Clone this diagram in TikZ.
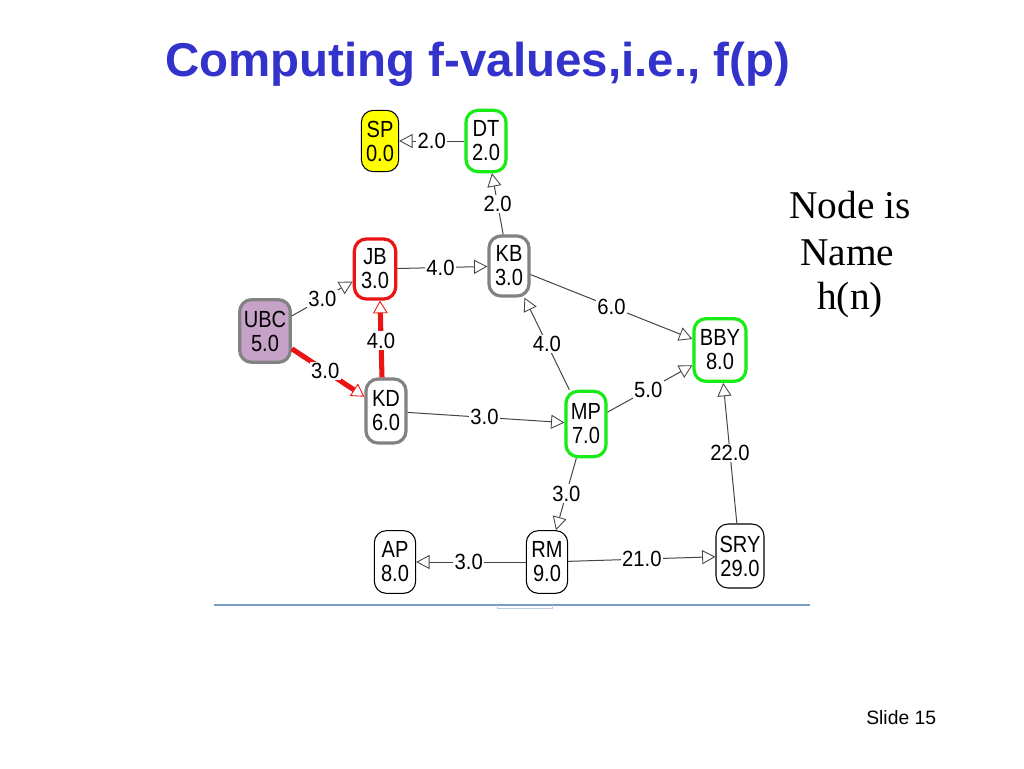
\documentclass[tikz,border=0pt]{standalone}
\usepackage{fontspec}
\setmainfont{Liberation Serif}
\newfontfamily\arial{Liberation Sans}
\newfontfamily\arialn[FakeStretch=0.86]{Liberation Sans}
\newfontfamily\arialm[FakeStretch=0.92]{Liberation Sans}
\usetikzlibrary{arrows.meta,calc}
\definecolor{titleblue}{RGB}{51,51,204}
\definecolor{ngreen}{RGB}{25,235,25}
\definecolor{nred}{RGB}{235,20,20}
\definecolor{ngray}{RGB}{130,130,130}
\definecolor{nyellow}{RGB}{255,255,0}
\definecolor{npurple}{RGB}{198,162,200}
\definecolor{edgegray}{RGB}{70,70,70}
\definecolor{slideline}{RGB}{125,155,200}
\begin{document}
\begin{tikzpicture}[x=0.75pt,y=-0.75pt,
  nd/.style={draw, rounded corners=9pt, align=center, inner sep=1pt,
    font=\arialn\fontsize{17.5}{18}\selectfont, fill=white, line width=0.8pt},
  thick/.style={line width=2.4pt},
  edge/.style={draw=edgegray, line width=0.75pt,
    -{Triangle[length=10pt,width=10.5pt,fill=white,line width=0.65pt]}},
  rededge/.style={draw=nred, line width=3.8pt,
    -{Triangle[length=9.5pt,width=11pt,fill=white,line width=0.65pt]}},
  lab/.style={fill=white, inner sep=1pt, font=\arialm\fontsize{16.5}{18}\selectfont},
  side/.style={anchor=base west, inner sep=0pt, font=\fontsize{29.5}{33}\selectfont}]
\useasboundingbox (0,0) rectangle (1024,768);
\fill[white] (0,0) rectangle (1024,768);

% title
\node[anchor=base west, inner sep=0pt, text=titleblue,
  font=\arial\bfseries\fontsize{35.6}{40}\selectfont] (title) at (165,76) {Computing f-values,i.e., f(p)};

% nodes
\node[nd, fill=nyellow, minimum width=28pt, minimum height=46pt] (SP) at (380,141) {SP\\0.0};
\node[nd, thick, draw=ngreen, minimum width=30pt, minimum height=46pt] (DT) at (486,141) {DT\\2.0};
\node[nd, thick, draw=nred, minimum width=31pt, minimum height=45pt] (JB) at (375,269) {JB\\3.0};
\node[nd, thick, draw=ngray, minimum width=30pt, minimum height=45pt] (KB) at (509,266) {KB\\3.0};
\node[nd, thick, draw=ngray, fill=npurple, minimum width=38pt, minimum height=47pt] (UBC) at (265,331) {UBC\\5.0};
\node[nd, thick, draw=ngray, minimum width=30pt, minimum height=48pt] (KD) at (386,411) {KD\\6.0};
\node[nd, thick, draw=ngreen, minimum width=30pt, minimum height=49pt] (MP) at (586,424) {MP\\7.0};
\node[nd, thick, draw=ngreen, minimum width=39pt, minimum height=47pt] (BBY) at (720,350) {BBY\\8.0};
\node[nd, minimum width=31pt, minimum height=47pt] (AP) at (395,562) {AP\\8.0};
\node[nd, minimum width=31pt, minimum height=47pt] (RM) at (547,562) {RM\\9.0};
\node[nd, minimum width=36pt, minimum height=48pt] (SRY) at (740,556) {SRY\\29.0};

% edges
\draw[edge] (DT) -- node[lab]{2.0} (SP);
\draw[edge] (KB) -- node[lab]{2.0} (DT);
\draw[edge] (JB) -- node[lab, pos=0.48]{4.0} (KB);
\draw[edge] (UBC) -- node[lab]{3.0} (JB);
\draw[rededge] (UBC) -- node[lab, pos=0.46]{3.0} (KD);
\draw[rededge] ($(KD.north)+(-4,0)$) -- node[lab, pos=0.48]{4.0} ($(JB.south)+(5,0)$);
\draw[edge] (KD) -- node[lab, pos=0.49]{3.0} (MP);
\draw[edge] (MP) -- node[lab]{4.0} (KB);
\draw[edge] (KB) -- node[lab]{6.0} (BBY);
\draw[edge] (MP) -- node[lab, pos=0.48]{5.0} (BBY);
\draw[edge] (SRY) -- node[lab]{22.0} (BBY);
\draw[edge] (MP) -- node[lab, pos=0.49]{3.0} (RM);
\draw[edge] (RM) -- node[lab, pos=0.52]{3.0} (AP);
\draw[edge] (RM) -- node[lab]{21.0} (SRY);

% bottom line
\draw[slideline, line width=1.1pt] (214,605) -- (810,605);
\draw[slideline!50, line width=0.5pt] (497,605) -- (497,608) -- (552,608) -- (552,605);

% side text
\node[side] (t1) at (789,218) {Node is};
\node[side] (t2) at (800,265) {Name};
\node[side] (t3) at (817,309) {h(n)};

% slide number
\node[anchor=base west, inner sep=0pt, font=\arial\fontsize{14.5}{16}\selectfont] (slide) at (866,724) {Slide 15};
\end{tikzpicture}
\end{document}
